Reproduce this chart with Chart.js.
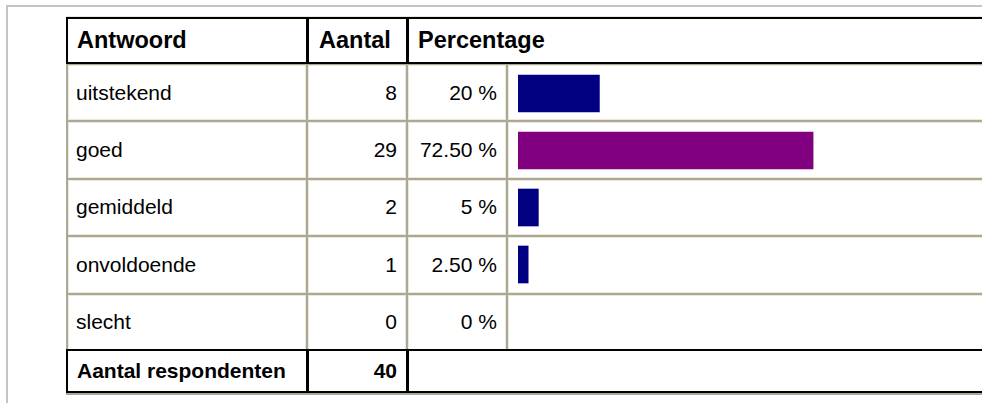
<!DOCTYPE html>
<html>
<head>
<meta charset="utf-8">
<script src="https://cdn.jsdelivr.net/npm/chart.js@4/dist/chart.umd.min.js"></script>
<style>
  body { margin: 0; width: 982px; height: 403px; overflow: hidden; position: relative; background: #fff;
         font-family: "Liberation Sans", Arial, sans-serif; color: #000; }
  #randV { position: absolute; left: 6px; top: 5px; width: 2px; height: 398px; background: #c4c4c4; }
  #randH { position: absolute; left: 6px; top: 5px; width: 976px; height: 2px; background: #c4c4c4; }
  #lijnBoven { position: absolute; left: 66px; top: 16px; width: 916px; height: 1px; background: #ece9d8; }
  #schaduw { position: absolute; left: 66px; top: 393px; width: 916px; height: 2px; background: #aca899; }
  .rij { position: absolute; left: 66px; width: 930px; display: flex; box-sizing: border-box;
         border: 2px solid #000; border-right: none; background: #fff; z-index: 2; }
  .rij > div { box-sizing: border-box; display: flex; align-items: center; height: 100%; }
  #kop { top: 17px; height: 47px; font-size: 23.5px; font-weight: bold; }
  #voet { top: 349px; height: 44px; font-size: 21px; font-weight: bold; }
  .c1 { width: 241px; border-right: 3px solid #000; padding-left: 9px; }
  .c2 { width: 100px; border-right: 3px solid #000; }
  .c3 { flex: 1; padding-left: 9px; }
  #kop .c2 { padding-left: 10px; }
  #voet .c2 { justify-content: flex-end; padding-right: 9px; }
  #lijf { position: absolute; left: 66px; top: 63px; width: 930px; height: 287px; box-sizing: border-box;
          padding: 2px 0 0 2px; background: #aca899; display: grid;
          grid-template-columns: 238px 98px 98px 1fr; grid-template-rows: repeat(5, 1fr); gap: 2px; }
  #lijf > div { background: #fff; border: 1px solid #ece9d8; box-sizing: border-box; display: flex;
                align-items: center; font-size: 21px; }
  #lijf .tekst { padding-left: 7px; }
  #lijf .getal { justify-content: flex-end; padding-right: 8px; }
  #grafiek { position: absolute; left: 508px; top: 63px; z-index: 1; }
</style>
</head>
<body>
<div id="randV"></div>
<div id="randH"></div>
<div id="lijnBoven"></div>
<div id="kop" class="rij"></div>
<div id="lijf"></div>
<div id="voet" class="rij"></div>
<div id="schaduw"></div>
<canvas id="grafiek" width="474" height="287"></canvas>
<script>
const kolommen = ['Antwoord', 'Aantal', 'Percentage'];
const antwoorden = ['uitstekend', 'goed', 'gemiddeld', 'onvoldoende', 'slecht'];
const aantallen = [8, 29, 2, 1, 0];
const percentages = [20, 72.5, 5, 2.5, 0];
const percentageLabels = ['20 %', '72.50 %', '5 %', '2.50 %', '0 %'];
const totaalLabel = 'Aantal respondenten';
const totaal = 40;

function cel(parent, cls, text) {
  let d = document.createElement('div');
  d.className = cls;
  d.textContent = text;
  parent.appendChild(d);
  return d;
}

// kop
let kop = document.getElementById('kop');
cel(kop, 'c1', kolommen[0]);
cel(kop, 'c2', kolommen[1]);
cel(kop, 'c3', kolommen[2]);

// rijen
let lijf = document.getElementById('lijf');
for (let i = 0; i < antwoorden.length; i++) {
  cel(lijf, 'tekst', antwoorden[i]);
  cel(lijf, 'getal', aantallen[i]);
  cel(lijf, 'getal', percentageLabels[i]);
  cel(lijf, '', '');
}

// voet
let voet = document.getElementById('voet');
cel(voet, 'c1', totaalLabel);
cel(voet, 'c2', totaal);
cel(voet, 'c3', '');

// balken
const ctx = document.getElementById('grafiek');
const hoogste = Math.max(...percentages);

new Chart(ctx, {
  type: 'bar',
  data: {
    labels: antwoorden,
    datasets: [{
      data: percentages,
      // geen streepje tekenen bij 0 %
      backgroundColor: percentages.map(p => p === 0 ? 'rgba(0,0,0,0)' : (p === hoogste ? '#800080' : '#000080')),
      borderWidth: 0,
      barThickness: 37
    }]
  },
  options: {
    indexAxis: 'y',
    responsive: false,
    animation: false,
    layout: { padding: { left: 10, top: 2, right: 0, bottom: 0 } },
    plugins: {
      legend: { display: false },
      tooltip: { enabled: false }
    },
    scales: {
      x: { display: false, min: 0, max: 114 },
      y: { display: false }
    }
  }
});
</script>
</body>
</html>
